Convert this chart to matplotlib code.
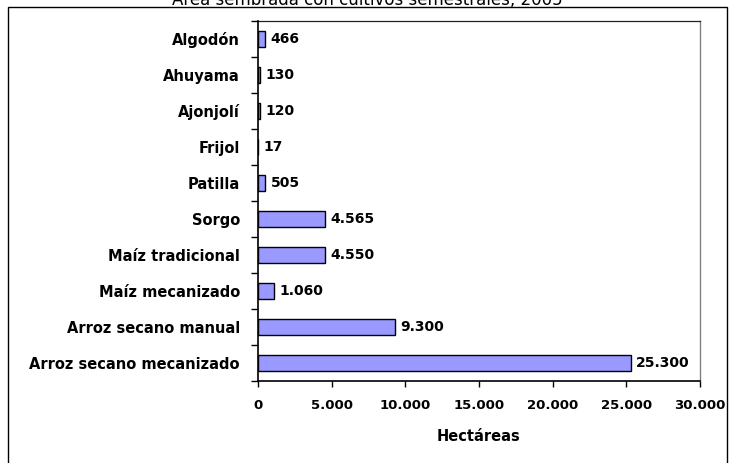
import numpy as np
import matplotlib
matplotlib.use("Agg")
import matplotlib.pyplot as plt
from matplotlib.patches import Rectangle
from matplotlib.ticker import FuncFormatter

# datos (de arriba hacia abajo)
cultivos = ["Algodón", "Ahuyama", "Ajonjolí", "Frijol", "Patilla", "Sorgo",
            "Maíz tradicional", "Maíz mecanizado", "Arroz secano manual",
            "Arroz secano mecanizado"]
hectareas = [466, 130, 120, 17, 505, 4565, 4550, 1060, 9300, 25300]
etiquetas = ["466", "130", "120", "17", "505", "4.565", "4.550", "1.060", "9.300", "25.300"]
x_ticks = [0, 5000, 10000, 15000, 20000, 25000, 30000]

titulo = "Área sembrada con cultivos semestrales, 2005"


def miles(v, pos):
    return f"{int(v):,}".replace(",", ".")


def main():
    fig = plt.figure(figsize=(7.3, 4.63), dpi=100)
    ax = fig.add_axes([258 / 730, 1 - 381 / 463, (700 - 258) / 730, (381 - 21) / 463])

    n = len(cultivos)
    y = np.arange(n)[::-1]  # Algodón arriba
    ax.barh(y, hectareas, height=0.42, color="#9999FF", edgecolor="black",
            linewidth=1.0, zorder=1)

    # etiquetas de valor
    for yi, v, t in zip(y, hectareas, etiquetas):
        ax.annotate(t, (v, yi), xytext=(4, 0), textcoords="offset points",
                    va="center", ha="left", fontsize=10, fontweight="bold",
                    family="DejaVu Sans")

    ax.set_xlim(0, 30000)
    ax.set_ylim(-0.5, n - 0.5)
    ax.set_xticks(x_ticks)
    ax.xaxis.set_major_formatter(FuncFormatter(miles))
    ax.tick_params(axis="x", direction="out", length=4, width=1, pad=9, labelsize=9.5)
    for lbl in ax.get_xticklabels():
        lbl.set_fontweight("bold")

    # categorías: etiquetas en el centro, marcas en los límites
    ax.set_yticks(y)
    ax.set_yticklabels(cultivos, fontsize=10.5, fontweight="bold")
    ax.tick_params(axis="y", which="major", length=0, pad=13)
    ax.set_yticks(np.arange(-0.5, n), minor=True)
    ax.tick_params(axis="y", which="minor", length=5, width=1, direction="out")

    ax.set_xlabel("Hectáreas", fontsize=10.5, fontweight="bold", labelpad=12)

    for s in ["left", "bottom"]:
        ax.spines[s].set_color("black")
        ax.spines[s].set_linewidth(1.2)
        ax.spines[s].set_zorder(3)
    ax.spines["top"].set_color("#202020")
    ax.spines["top"].set_linewidth(0.9)
    ax.spines["right"].set_color("#808080")
    ax.spines["right"].set_linewidth(1.0)

    # marco exterior del gráfico
    marco = Rectangle((8 / 730, -0.1), (727 - 8) / 730, 1.1 - 7 / 463,
                      transform=fig.transFigure, fill=False, edgecolor="black",
                      linewidth=1.0, clip_on=False)
    fig.patches.append(marco)

    # título (cortado arriba, como en la imagen)
    fig.text(367 / 730, 1 - 5 / 463, titulo, ha="center", va="baseline",
             fontsize=12, family="DejaVu Sans")

    fig.savefig("out.png", dpi=100)
    plt.close(fig)


if __name__ == "__main__":
    main()
